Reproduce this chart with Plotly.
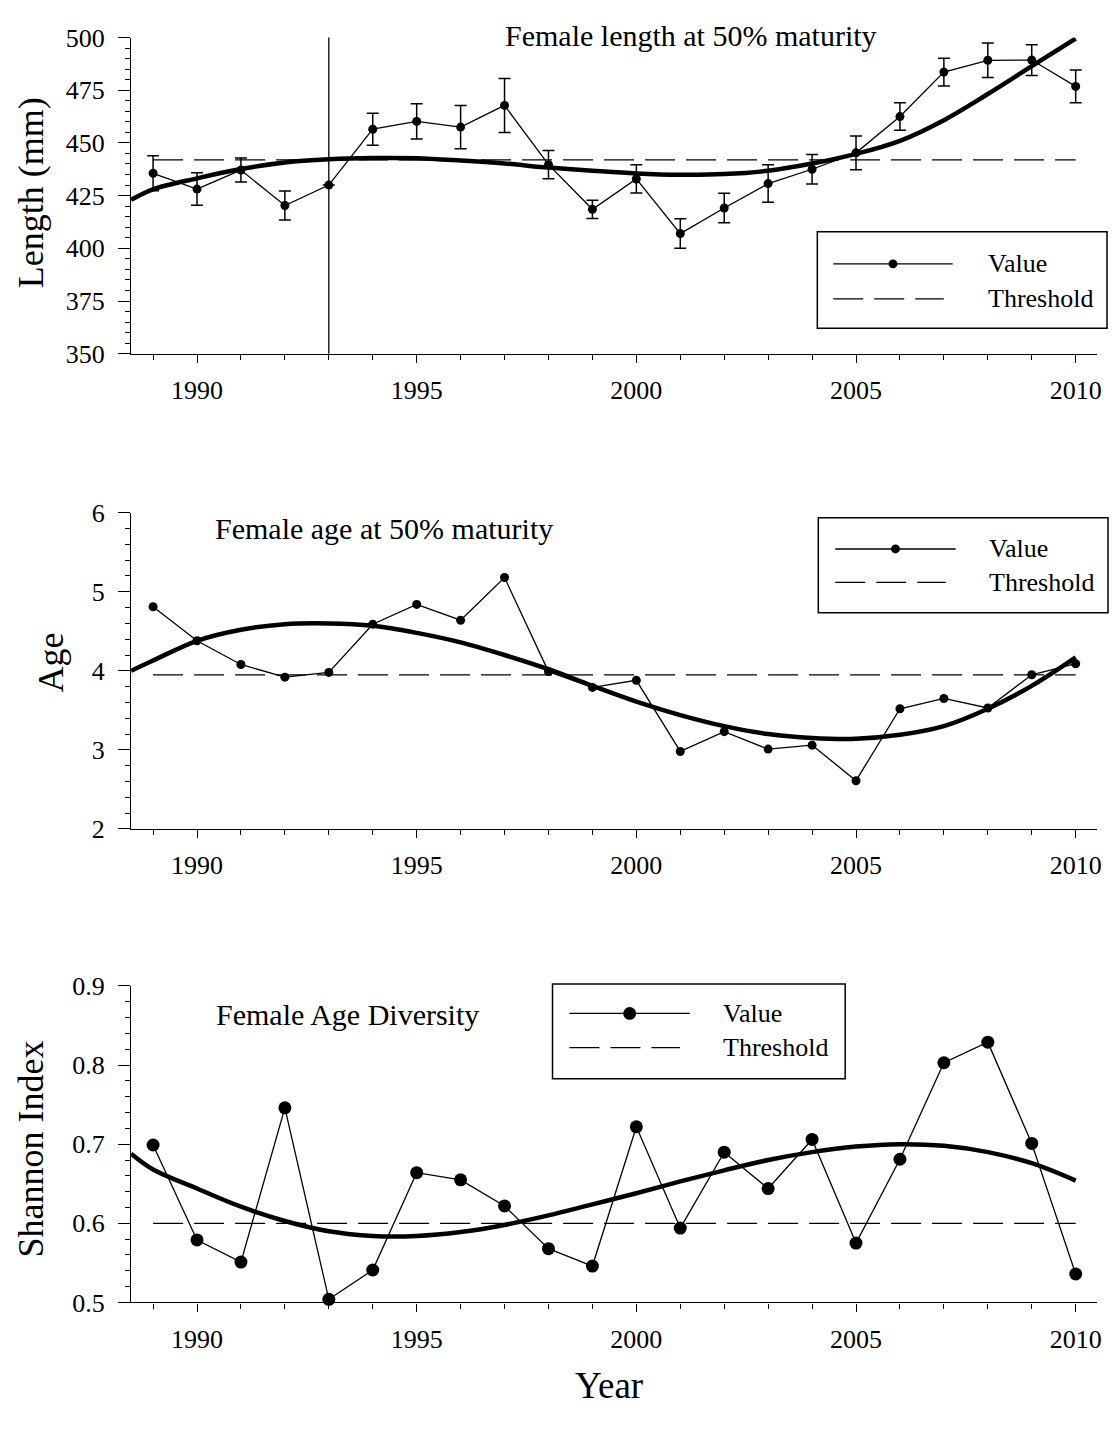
import plotly.graph_objects as go

W, H = 1116, 1437
FONT = "Liberation Serif"

# ---------------------------------------------------------------- data
years = list(range(1989, 2011))
trend_years = [1988.5] + years

# Female length at 50% maturity (mm), with standard errors
length_mm = [435.6, 428.1, 437.1, 420.3, 430.0, 456.5, 460.2, 457.5, 467.8, 439.7, 418.5,
             432.9, 407.0, 419.1, 430.7, 437.5, 445.3, 462.5, 483.6, 489.2, 489.3, 476.8]
length_err = [8.3, 7.7, 5.7, 6.9, None, 7.6, 8.4, 10.3, 12.8, 6.7, 4.3,
              6.7, 7.0, 7.0, 8.9, 7.0, 8.0, 6.5, 6.6, 8.2, 7.3, 7.8]
length_threshold = 442.0
length_trend = [423.0, 428.0, 433.2, 437.6, 440.7, 442.2, 442.8, 442.7, 441.6, 440.2, 438.3, 436.8,
                435.5, 434.9, 435.2, 436.8, 440.2, 444.8, 451.0, 460.8, 473.2, 486.4, 499.5]
shift_year = 1993

# Female age at 50% maturity (years)
age = [4.81, 4.38, 4.08, 3.92, 3.98, 4.59, 4.84, 4.64, 5.18, 3.99, 3.79,
       3.88, 2.98, 3.23, 3.01, 3.06, 2.61, 3.52, 3.65, 3.53, 3.95, 4.09]
age_threshold = 3.95
age_trend = [4.00, 4.13, 4.38, 4.52, 4.59, 4.60, 4.57, 4.48, 4.36, 4.20, 4.02, 3.81,
             3.61, 3.44, 3.30, 3.20, 3.15, 3.14, 3.19, 3.30, 3.52, 3.81, 4.17]

# Female age diversity (Shannon index)
shannon = [0.699, 0.579, 0.551, 0.746, 0.504, 0.541, 0.664, 0.655, 0.622, 0.568, 0.546,
           0.722, 0.594, 0.690, 0.644, 0.706, 0.575, 0.681, 0.803, 0.829, 0.701, 0.536]
shannon_threshold = 0.600
shannon_trend = [0.688, 0.668, 0.644, 0.621, 0.603, 0.590, 0.584, 0.584, 0.589, 0.598, 0.610, 0.624,
                 0.638, 0.653, 0.667, 0.680, 0.690, 0.697, 0.700, 0.698, 0.690, 0.676, 0.654]

year_ticks = [1990, 1995, 2000, 2005, 2010]
legend_labels = ["Value", "Threshold"]


# ---------------------------------------------------------------- helpers
def xp(px):
    return px / W


def yp(py):
    return 1 - py / H


def tfont(size):
    return dict(family=FONT, size=size, color="black")


X_LEFT, X_RIGHT = 131.7, 1101.7

panels = [
    dict(key="", top=24, bottom=346.7, yrange=[350, 500], dtick=25, minor=5,
         values=length_mm, err=length_err, thr=length_threshold, trend=length_trend,
         msize=9, title="Length (mm)", title_x=31, title_y=182),
    dict(key="2", top=509, bottom=831.7, yrange=[2, 6], dtick=1, minor=0.2,
         values=age, err=None, thr=age_threshold, trend=age_trend,
         msize=9, title="Age", title_x=51, title_y=662),
    dict(key="3", top=992, bottom=1315, yrange=[0.5, 0.9], dtick=0.1, minor=0.02,
         values=shannon, err=None, thr=shannon_threshold, trend=shannon_trend,
         msize=13, title="Shannon Index", title_x=31, title_y=1158),
]

fig = go.Figure()
layout = dict(
    width=W, height=H, margin=dict(l=0, r=0, t=0, b=0),
    paper_bgcolor="white", plot_bgcolor="white", showlegend=False,
)

shapes = []
annotations = []

for p in panels:
    k = p["key"]
    xa, ya = "x" + k, "y" + k
    # threshold
    fig.add_trace(go.Scatter(
        x=[years[0], years[-1]], y=[p["thr"], p["thr"]], xaxis=xa, yaxis=ya,
        mode="lines", line=dict(color="black", width=1.2, dash="30px,11px"),
        hoverinfo="skip"))
    # fitted trend
    fig.add_trace(go.Scatter(
        x=trend_years, y=p["trend"], xaxis=xa, yaxis=ya, mode="lines",
        line=dict(color="black", width=4.5, shape="spline", smoothing=1.0),
        hoverinfo="skip"))
    # observed values
    sc = dict(
        x=years, y=p["values"], xaxis=xa, yaxis=ya, mode="lines+markers",
        line=dict(color="black", width=1.3),
        marker=dict(color="black", size=p["msize"]), cliponaxis=False)
    if p["err"] is not None:
        sc["error_y"] = dict(type="data", array=p["err"], visible=True,
                             color="black", thickness=1.5, width=6)
    fig.add_trace(go.Scatter(**sc))

    layout["xaxis" + k] = dict(
        domain=[xp(X_LEFT), xp(X_RIGHT)], range=[1988.5, 2010.48], anchor=ya,
        showline=True, linecolor="black", linewidth=1.3,
        ticks="outside", ticklen=8, tickwidth=1.3, tickcolor="black",
        tickmode="array", tickvals=year_ticks, ticktext=[str(v) for v in year_ticks],
        minor=dict(ticks="outside", ticklen=5, tickwidth=1, tickcolor="black",
                   tickmode="linear", tick0=1989, dtick=1),
        showgrid=False, zeroline=False, tickfont=tfont(26), ticklabelstandoff=5)
    layout["yaxis" + k] = dict(
        domain=[yp(p["bottom"]), yp(p["top"])], range=p["yrange"], anchor=xa,
        showline=True, linecolor="black", linewidth=1.3,
        ticks="outside", ticklen=12, tickwidth=1.3, tickcolor="black",
        tickmode="linear", tick0=p["yrange"][0], dtick=p["dtick"],
        minor=dict(ticks="outside", ticklen=5, tickwidth=1, tickcolor="black",
                   tickmode="linear", tick0=p["yrange"][0], dtick=p["minor"]),
        showgrid=False, zeroline=False, tickfont=tfont(26), ticklabelstandoff=8)

    annotations.append(dict(
        text=p["title"], xref="paper", yref="paper",
        x=xp(p["title_x"]), y=yp(p["title_y"]),
        xanchor="center", yanchor="middle", textangle=-90,
        showarrow=False, font=tfont(36)))

# vertical marker in the length panel
shapes.append(dict(type="line", xref="x", yref="y domain", x0=shift_year, x1=shift_year,
                   y0=0, y1=1, line=dict(color="black", width=1.3)))

# panel titles
annotations += [
    dict(text="Female length at 50% maturity", x=xp(694), y=yp(22), xanchor="center"),
    dict(text="Female age at 50% maturity", x=xp(214), y=yp(525), xanchor="left"),
    dict(text="Female Age Diversity", x=xp(215), y=yp(1021), xanchor="left"),
]
for a in annotations[-3:]:
    a.update(xref="paper", yref="paper", yanchor="middle", showarrow=False, font=tfont(30))

annotations.append(dict(text="Year", xref="paper", yref="paper", x=xp(612), y=yp(1400),
                        xanchor="center", yanchor="middle", showarrow=False, font=tfont(37)))


# legends
def add_legend(box, row1, row2, line_x, dot_r, text_x):
    x0, y0, x1, y1 = box
    shapes.append(dict(type="rect", xref="paper", yref="paper",
                       x0=xp(x0), x1=xp(x1), y0=yp(y1), y1=yp(y0),
                       line=dict(color="black", width=1.5), fillcolor="white"))
    shapes.append(dict(type="line", xref="paper", yref="paper",
                       x0=xp(line_x[0]), x1=xp(line_x[1]), y0=yp(row1), y1=yp(row1),
                       line=dict(color="black", width=1.3)))
    cx = (line_x[0] + line_x[1]) / 2
    shapes.append(dict(type="circle", xref="paper", yref="paper",
                       x0=xp(cx - dot_r), x1=xp(cx + dot_r),
                       y0=yp(row1 + dot_r), y1=yp(row1 - dot_r),
                       line=dict(color="black", width=0), fillcolor="black"))
    shapes.append(dict(type="line", xref="paper", yref="paper",
                       x0=xp(line_x[0]), x1=xp(line_x[0] + 111), y0=yp(row2), y1=yp(row2),
                       line=dict(color="black", width=1.2, dash="30px,11px")))
    for label, row in zip(legend_labels, [row1, row2]):
        annotations.append(dict(text=label, xref="paper", yref="paper",
                                x=xp(text_x), y=yp(row), xanchor="left", yanchor="middle",
                                showarrow=False, font=tfont(26)))


add_legend((821, 222.3, 1112, 320.7), 255, 290.7, (837, 957), 4.5, 990)
add_legend((822, 514, 1113, 611), 546, 580, (839, 960), 4.5, 991)
add_legend((555, 990, 849, 1086.7), 1020, 1055, (572, 693), 6.5, 724)

layout["shapes"] = shapes
layout["annotations"] = annotations
fig.update_layout(**layout)

fig.write_html("out.html")
